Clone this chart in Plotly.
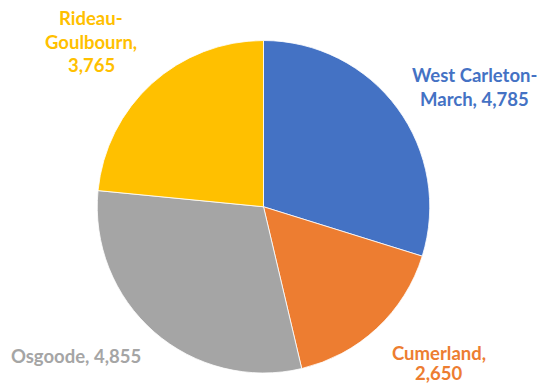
import plotly.graph_objects as go

categories = ["West Carleton-March", "Cumerland", "Osgoode", "Rideau-Goulbourn"]
values = [4785, 2650, 4855, 3765]
colors = ["#4472C4", "#ED7D31", "#A5A5A5", "#FFC000"]
label_lines = [
    ["West Carleton-", "March, 4,785"],
    ["Cumerland,", "2,650"],
    ["Osgoode, 4,855"],
    ["Rideau-", "Goulbourn,", "3,765"],
]

# browser window size and the page's default body margin
WIN_W, WIN_H = 546, 385
OFF = 8
W, H = WIN_W - OFF, WIN_H - OFF

def px(x):
    return (x - OFF) / W

def py(y):
    return 1 - (y - OFF) / H

fig = go.Figure(go.Pie(
    labels=categories,
    values=values,
    sort=False,
    direction="clockwise",
    rotation=0,
    textinfo="none",
    hoverinfo="label+value",
    marker=dict(colors=colors, line=dict(color="#FFFFFF", width=0.8)),
    domain=dict(x=[px(97), px(430)], y=[py(373), py(40.5)]),
    showlegend=False,
))

# label layout (window pixels): centre x, centre y of first line, line spacing
label_layout = [(474, 74.5, 24.5), (439, 352.5, 20.5), (76, 355.5, 0), (91, 18, 23.5)]
for lines, col, (lx, ly, dy) in zip(label_lines, colors, label_layout):
    for i, line in enumerate(lines):
        fig.add_annotation(
            x=px(lx), y=py(ly + i * dy), xref="paper", yref="paper",
            text="<b>" + line + "</b>", showarrow=False,
            xanchor="center", yanchor="middle", align="center",
            borderpad=0,
            font=dict(family="Lato, 'Open Sans', sans-serif", size=18.5, color=col),
        )

fig.update_layout(
    width=W, height=H,
    margin=dict(l=0, r=0, t=0, b=0),
    paper_bgcolor="white",
    plot_bgcolor="white",
)

fig.write_html("out.html")
